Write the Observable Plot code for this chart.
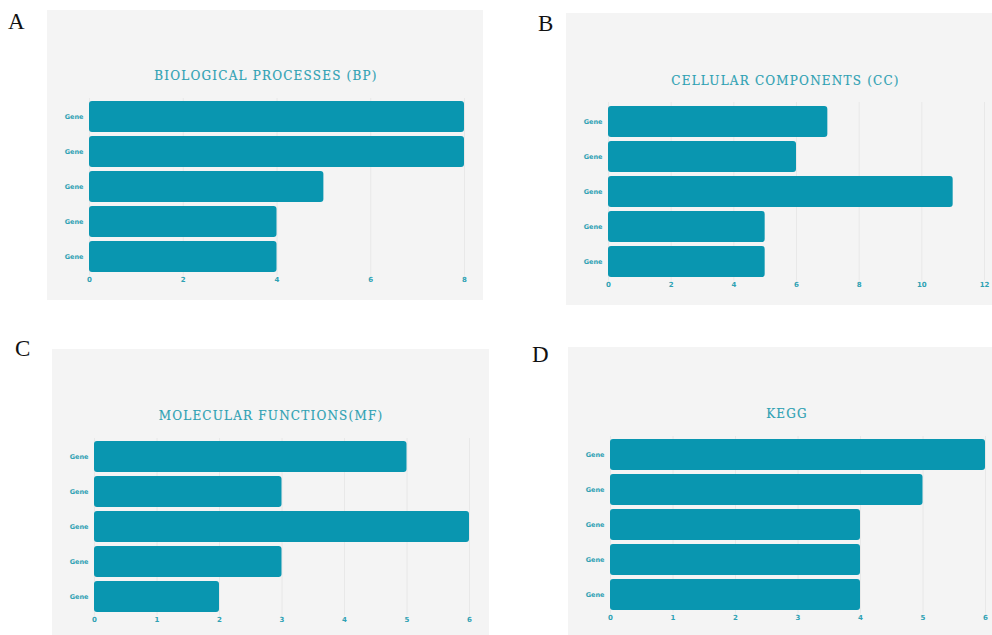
<!DOCTYPE html>
<html>
<head>
<meta charset="utf-8">
<script src="https://cdn.jsdelivr.net/npm/d3@7"></script>
<script src="https://cdn.jsdelivr.net/npm/@observablehq/plot@0.6"></script>
<style>
  html, body { margin: 0; padding: 0; background: #ffffff; }
  #root { position: relative; width: 992px; height: 635px; overflow: hidden; background: #fff; }
  .panel { position: absolute; background: #f4f4f4; }
  .panel svg { overflow: visible; display: block; }
  .letter { position: absolute; font-family: "Liberation Serif", "Times New Roman", serif; font-size: 23px; color: #111; line-height: 1; }
</style>
</head>
<body>
<div id="root"></div>
<script>
// ---- data ----
const categories = ["Gene", "Gene", "Gene", "Gene", "Gene"];
const bpValues = [8, 8, 5, 4, 4];
const ccValues = [7, 6, 11, 5, 5];
const mfValues = [5, 3, 6, 3, 2];
const keggValues = [6, 5, 4, 4, 4];
const bpTicks = [0, 2, 4, 6, 8];
const ccTicks = [0, 2, 4, 6, 8, 10, 12];
const mfTicks = [0, 1, 2, 3, 4, 5, 6];
const keggTicks = [0, 1, 2, 3, 4, 5, 6];
const panelLetters = ["A", "B", "C", "D"];
const panelTitles = ["BIOLOGICAL PROCESSES (BP)", "CELLULAR COMPONENTS (CC)", "MOLECULAR FUNCTIONS(MF)", "KEGG"];

// ---- layout ----
const BAR = "#0996b0";
const TEXT = "#2ea1b3";
const panels = [
  {values: bpValues, ticks: bpTicks, left: 47, top: 10, w: 436, h: 290, ml: 42, mr: 19, mt: 88, mb: 24.5, titleDy: -22, letter: [8, 10]},
  {values: ccValues, ticks: ccTicks, left: 566, top: 13, w: 426, h: 292, ml: 42, mr: 8, mt: 89, mb: 24.5, titleDy: -21, letter: [538, 12]},
  {values: mfValues, ticks: mfTicks, left: 52, top: 349, w: 437, h: 286, ml: 42, mr: 20, mt: 89, mb: 19.5, titleDy: -22, letter: [15, 337]},
  {values: keggValues, ticks: keggTicks, left: 568, top: 347, w: 424, h: 288, ml: 42, mr: 7, mt: 89, mb: 21.5, titleDy: -22, letter: [532, 343]}
];

const root = document.getElementById("root");

panels.forEach((p, k) => {
  const rows = p.values.map((v, i) => ({i, v, cat: categories[i]}));
  const chart = Plot.plot({
    width: p.w,
    height: p.h,
    marginLeft: p.ml,
    marginRight: p.mr,
    marginTop: p.mt,
    marginBottom: p.mb,
    style: {background: "transparent", overflow: "visible"},
    x: {domain: [0, p.ticks[p.ticks.length - 1]], ticks: p.ticks, label: null},
    y: {domain: d3.range(categories.length), paddingInner: 0.12, paddingOuter: 0.06, label: null},
    marks: [
      Plot.gridX(p.ticks, {stroke: "#e4e4e4", strokeOpacity: 1, strokeWidth: 0.8}),
      Plot.barX(rows, {y: "i", x: "v", fill: BAR, rx: 3}),
      Plot.axisX({ticks: p.ticks, tickSize: 0, tickPadding: 1.5, fill: TEXT, tickFormat: d3.format("d"),
        fontSize: 7, fontWeight: "bold", fontFamily: "'DejaVu Sans', sans-serif", label: null}),
      Plot.axisY({tickSize: 0, tickPadding: 6, fill: TEXT, tickFormat: (i) => categories[i],
        fontSize: 6.5, fontWeight: "bold", fontFamily: "'DejaVu Sans', sans-serif", label: null}),
      Plot.text([panelTitles[k]], {text: (d) => d, frameAnchor: "top", dy: p.titleDy, dx: -11, fill: TEXT,
        stroke: TEXT, strokeWidth: 0.15, fontSize: 12, fontFamily: "'DejaVu Serif', serif", lineAnchor: "middle"})
    ]
  });
  chart.querySelectorAll("text").forEach((t) => {
    if (panelTitles.includes(t.textContent)) t.style.letterSpacing = "1.2px";
    else t.style.fontWeight = "700";
  });
  const div = document.createElement("div");
  div.className = "panel";
  div.style.left = p.left + "px";
  div.style.top = p.top + "px";
  div.style.width = p.w + "px";
  div.style.height = p.h + "px";
  div.appendChild(chart);
  root.appendChild(div);

  const lab = document.createElement("div");
  lab.className = "letter";
  lab.textContent = panelLetters[k];
  lab.style.left = p.letter[0] + "px";
  lab.style.top = p.letter[1] + "px";
  root.appendChild(lab);
});
</script>
</body>
</html>
